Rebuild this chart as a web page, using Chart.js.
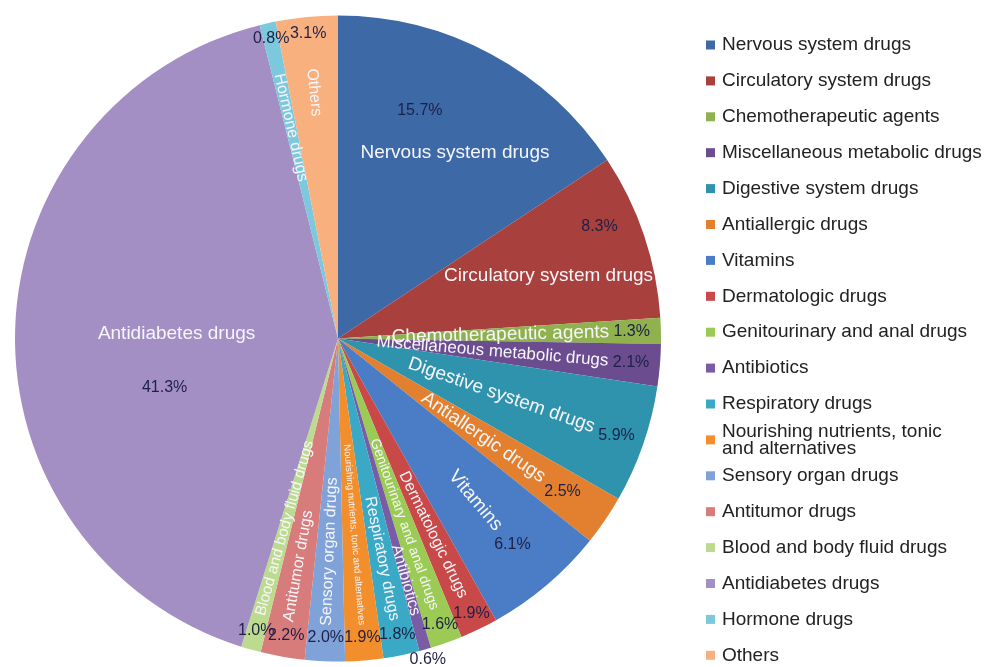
<!DOCTYPE html>
<html>
<head>
  <title>Drug categories share</title>
  <script src="https://cdn.jsdelivr.net/npm/chart.js@4/dist/chart.umd.min.js"></script>
  <style>
    body { margin: 0; background: #fff; }
  </style>
</head>
<body>
  <canvas id="drug-chart" width="986" height="667"></canvas>
  <script>
    // categories, clockwise from 12 o'clock
    const categories = [
      'Nervous system drugs', 'Circulatory system drugs', 'Chemotherapeutic agents',
      'Miscellaneous metabolic drugs', 'Digestive system drugs', 'Antiallergic drugs',
      'Vitamins', 'Dermatologic drugs', 'Genitourinary and anal drugs', 'Antibiotics',
      'Respiratory drugs', 'Nourishing nutrients, tonic and alternatives',
      'Sensory organ drugs', 'Antitumor drugs', 'Blood and body fluid drugs',
      'Antidiabetes drugs', 'Hormone drugs', 'Others'
    ];
    // share of each category, %
    const shares = [15.7, 8.3, 1.3, 2.1, 5.9, 2.5, 6.1, 1.9, 1.6, 0.6, 1.8, 1.9, 2.0, 2.2, 1.0, 41.3, 0.8, 3.1];
    // legend text, the long one split over two lines
    const legendLabels = [
      ['Nervous system drugs'], ['Circulatory system drugs'], ['Chemotherapeutic agents'],
      ['Miscellaneous metabolic drugs'], ['Digestive system drugs'], ['Antiallergic drugs'],
      ['Vitamins'], ['Dermatologic drugs'], ['Genitourinary and anal drugs'], ['Antibiotics'],
      ['Respiratory drugs'], ['Nourishing nutrients, tonic', 'and alternatives'],
      ['Sensory organ drugs'], ['Antitumor drugs'], ['Blood and body fluid drugs'],
      ['Antidiabetes drugs'], ['Hormone drugs'], ['Others']
    ];
    const colors = [
      '#3D69A6', '#A8403D', '#8FB14E', '#6B4D8F', '#2F93AD', '#E2802F',
      '#4A7DC6', '#C94848', '#9BCB55', '#7A5CA6', '#39A9C6', '#F28E2C',
      '#7FA2D9', '#D87C7B', '#BCDB8E', '#A38FC4', '#7CC9DE', '#F9B07F'
    ];

    const FONT = '"Liberation Sans", Arial, sans-serif';

    // category names and percentages drawn inside the slices
    const sliceLabels = {
      id: 'sliceLabels',
      afterDatasetsDraw(chart) {
        const ctx = chart.ctx;
        const meta = chart.getDatasetMeta(0);
        meta.data.forEach((arc, i) => {
          const p = arc.getProps(['x', 'y', 'startAngle', 'endAngle', 'outerRadius'], true);
          const r = p.outerRadius;
          const mid = (p.startAngle + p.endAngle) / 2;
          const at = (R, a) => ({ x: p.x + R * Math.cos(a), y: p.y + R * Math.sin(a) });
          const share = shares[i];
          const pctText = share.toFixed(1) + '%';
          const right = Math.cos(mid) > 0;
          let theta = (mid + Math.PI / 2) * 180 / Math.PI;
          theta = ((theta % 360) + 360) % 360;
          const bottom = theta > 150 && theta < 215;

          ctx.save();
          ctx.font = '16px ' + FONT;
          const pw = ctx.measureText(pctText).width;
          ctx.restore();
          let pctPos;

          if (share >= 7) {
            // wide slices: horizontal name
            const big = share > 30;
            const a = big ? mid : p.startAngle + 0.57 * (p.endAngle - p.startAngle);
            const np = at(big ? 0.5 * r : 0.68 * r, a);
            ctx.save();
            ctx.fillStyle = '#F6F6FA';
            ctx.font = '19px ' + FONT;
            ctx.textAlign = 'center';
            ctx.textBaseline = 'middle';
            ctx.fillText(categories[i], np.x, np.y);
            ctx.restore();
            if (big) {
              pctPos = { x: np.x - 12, y: np.y + 54 };
            } else {
              const pa = p.startAngle + 0.35 * (p.endAngle - p.startAngle);
              pctPos = at(share > 12 ? 0.75 * r : 0.88 * r, pa);
            }
          } else {
            // narrow slices: name runs along the radius
            const maxLen = bottom ? 0.56 * r : 0.72 * r;
            let size = theta < 150 ? 19 : 16;
            ctx.save();
            ctx.font = size + 'px ' + FONT;
            const w = ctx.measureText(categories[i]).width;
            if (w > maxLen) size = size * maxLen / w;
            let endR = bottom ? 0.89 * r : 0.84 * r;
            if (right && !bottom && w < 0.5 * r) endR = 0.77 * r;
            ctx.font = size.toFixed(1) + 'px ' + FONT;
            const ep = at(endR, mid);
            ctx.translate(ep.x, ep.y);
            ctx.rotate(right ? mid : mid + Math.PI);
            ctx.fillStyle = '#F6F6FA';
            ctx.textAlign = right ? 'right' : 'left';
            ctx.textBaseline = 'middle';
            ctx.fillText(categories[i], 0, 0);
            ctx.restore();
            const proj = Math.abs(pw / 2 * Math.cos(mid)) + Math.abs(7 * Math.sin(mid));
            let pr = endR + proj + 4;
            if (share < 0.7) pr = r + 10;
            else if (theta >= 215) pr = 0.95 * r;
            pctPos = at(pr, mid);
          }

          ctx.save();
          ctx.fillStyle = '#1E2046';
          ctx.font = '16px ' + FONT;
          ctx.textAlign = 'center';
          ctx.textBaseline = 'middle';
          ctx.fillText(pctText, pctPos.x, pctPos.y);
          ctx.restore();
        });
      }
    };

    // legend column on the right
    const sideLegend = {
      id: 'sideLegend',
      afterDraw(chart) {
        const ctx = chart.ctx;
        const x0 = 706, y0 = 45, step = 35.9;
        ctx.save();
        ctx.font = '19px ' + FONT;
        ctx.textBaseline = 'middle';
        ctx.textAlign = 'left';
        legendLabels.forEach((lines, i) => {
          const y = y0 + i * step;
          ctx.fillStyle = colors[i];
          ctx.fillRect(x0, y - 4.5, 9, 9);
          ctx.fillStyle = '#222';
          if (lines.length === 1) {
            ctx.fillText(lines[0], x0 + 16, y);
          } else {
            ctx.fillText(lines[0], x0 + 16, y - 8.5);
            ctx.fillText(lines[1], x0 + 16, y + 8.5);
          }
        });
        ctx.restore();
      }
    };

    const ctx = document.getElementById('drug-chart').getContext('2d');
    new Chart(ctx, {
      type: 'pie',
      data: {
        labels: categories,
        datasets: [{
          data: shares,
          backgroundColor: colors,
          borderWidth: 0
        }]
      },
      options: {
        responsive: false,
        animation: false,
        layout: { padding: { left: 15, top: 15, right: 325, bottom: 5 } },
        plugins: {
          legend: { display: false },
          tooltip: { enabled: false }
        }
      },
      plugins: [sliceLabels, sideLegend]
    });
  </script>
</body>
</html>
